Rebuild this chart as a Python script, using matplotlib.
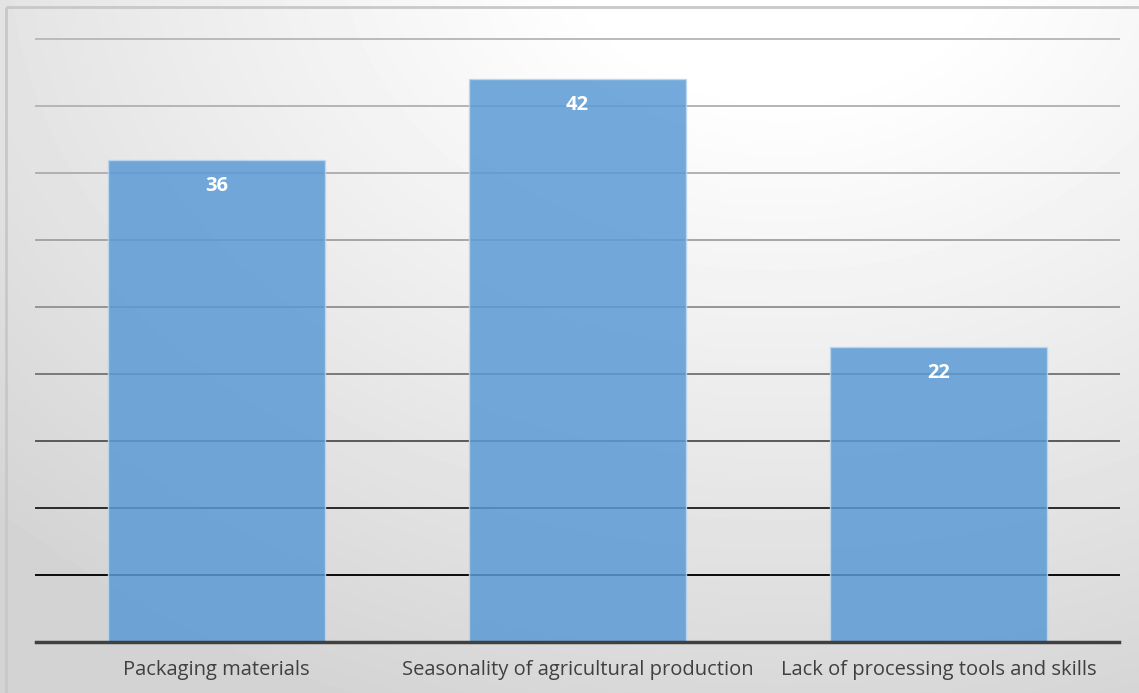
import numpy as np
import matplotlib.pyplot as plt
from matplotlib.patches import Rectangle

categories = ['Packaging materials', 'Seasonality of agricultural production',
              'Lack of processing tools and skills']
values = [36, 42, 22]
grid_vals = [5, 10, 15, 20, 25, 30, 35, 40, 45]
grid_colors = ['#0a0a0a', '#2a2a2a', '#5a5a5a', '#7a7a7a', '#959595',
               '#a5a5a5', '#b0b0b0', '#b5b5b5', '#bababa']

W, H = 1139, 693
fig = plt.figure(figsize=(W / 100, H / 100), dpi=100)

# background gradient: white near top centre-right, grey towards bottom-left
bg = fig.add_axes([0, 0, 1, 1])
yy, xx = np.mgrid[0:H, 0:W]
d = np.sqrt(((xx - 780) / 1000.0) ** 2 + ((yy + 60) / 750.0) ** 2)
shade = np.clip(1.03 - 0.18 * d ** 1.1, 0.83, 1.0)
bg.imshow(shade, cmap='gray', vmin=0, vmax=1, aspect='auto',
          extent=[0, W, H, 0], interpolation='bilinear')
bg.add_patch(Rectangle((6, 7), W + 10, H + 10, fill=False,
                       edgecolor='#c8c8c8', linewidth=2))
bg.set_xlim(0, W)
bg.set_ylim(H, 0)
bg.axis('off')

ax = fig.add_axes([36 / W, (H - 642) / H, (1119 - 36) / W, (642 - 39) / H])
ax.patch.set_alpha(0)
x = np.arange(len(categories))
for g, c in zip(grid_vals, grid_colors):
    ax.axhline(g, color=c, linewidth=1.4, zorder=1, clip_on=False)

bars = ax.bar(x, values, width=0.6, color='#5b9bd5', alpha=0.85,
              edgecolor='#bdd7ee', linewidth=1, zorder=2)
for xi, v in zip(x, values):
    ax.text(xi, v - 1.95, str(v), ha='center', va='center', color='white',
            fontsize=14.5, fontweight='bold', family='Open Sans', zorder=3)

ax.axhline(0, color='#404040', linewidth=2.5, zorder=3, clip_on=False)
ax.set_xlim(-0.5, 2.5)
ax.set_ylim(0, 45)
ax.set_yticks([])
ax.set_xticks(x)
ax.set_xticklabels(categories, fontsize=14.5, color='#404040', family='Open Sans')
ax.tick_params(axis='x', length=0, pad=13)
for s in ax.spines.values():
    s.set_visible(False)

fig.savefig('out.png', dpi=100)
